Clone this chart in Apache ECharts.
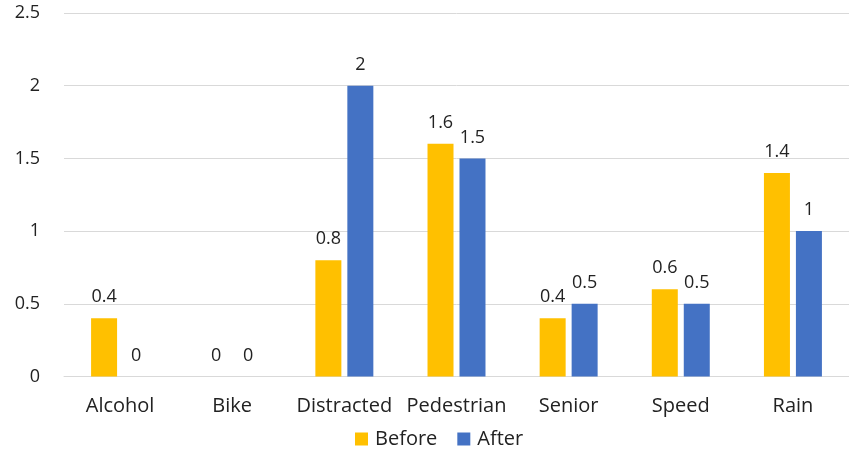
<!DOCTYPE html>
<html><head><meta charset="utf-8">
<script src="https://cdn.jsdelivr.net/npm/echarts@6/dist/echarts.min.js"></script>
<style>html,body{margin:0;padding:0;background:#fff}#c{width:849px;height:454px}</style>
</head><body><div id="c"></div>
<script>
const categories = ["Alcohol","Bike","Distracted","Pedestrian","Senior","Speed","Rain"];
const beforeVals = [0.4, 0, 0.8, 1.6, 0.4, 0.6, 1.4];
const afterVals = [0, 0, 2, 1.5, 0.5, 0.5, 1];
const yTicks = {min: 0, max: 2.5, interval: 0.5};
const FONT = "Open Sans";
const chart = echarts.init(document.getElementById('c'), null, {renderer: 'canvas'});
const lbl = {show: true, position: 'top', distance: 12, fontFamily: FONT, fontSize: 18, color: '#222'};
chart.setOption({
  animation: false,
  textStyle: {fontFamily: FONT},
  grid: {left: 64, width: 791, top: 13, height: 363.5, containLabel: false},
  legend: {
    bottom: 0, left: 350, itemWidth: 13, itemHeight: 13, itemGap: 20,
    icon: 'rect',
    textStyle: {fontFamily: FONT, fontSize: 20, color: '#222', padding: [0,0,0,2]},
    data: ['Before','After']
  },
  xAxis: {
    type: 'category', data: categories,
    axisLine: {show: true, lineStyle: {color: '#d9d9d9', width: 1}},
    axisTick: {show: false},
    axisLabel: {fontFamily: FONT, fontSize: 20, color: '#222', margin: 20, interval: 0}
  },
  yAxis: {
    type: 'value', min: yTicks.min, max: yTicks.max, interval: yTicks.interval,
    axisLine: {show: false}, axisTick: {show: false},
    splitLine: {lineStyle: {color: '#d9d9d9', width: 1}},
    axisLabel: {fontFamily: FONT, fontSize: 18, color: '#222', margin: 24}
  },
  series: [
    {name: 'Before', type: 'bar', data: beforeVals, barWidth: 26, barGap: '23%',
     itemStyle: {color: '#FFC000'}, label: lbl},
    {name: 'After', type: 'bar', data: afterVals, barWidth: 26,
     itemStyle: {color: '#4472C4'}, label: lbl}
  ]
});
</script></body></html>
